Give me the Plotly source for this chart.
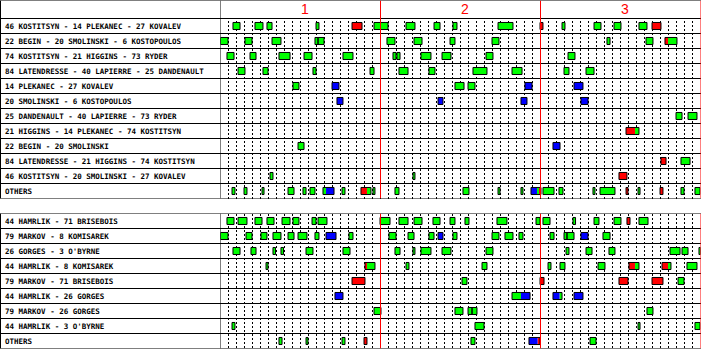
import plotly.graph_objects as go

# ---------------- data (minutes of game time) ----------------
PERIODS = ["1", "2", "3"]

FWD_LABELS = [
    "46 KOSTITSYN - 14 PLEKANEC - 27 KOVALEV",
    "22 BEGIN - 20 SMOLINSKI - 6 KOSTOPOULOS",
    "74 KOSTITSYN - 21 HIGGINS - 73 RYDER",
    "84 LATENDRESSE - 40 LAPIERRE - 25 DANDENAULT",
    "14 PLEKANEC - 27 KOVALEV",
    "20 SMOLINSKI - 6 KOSTOPOULOS",
    "25 DANDENAULT - 40 LAPIERRE - 73 RYDER",
    "21 HIGGINS - 14 PLEKANEC - 74 KOSTITSYN",
    "22 BEGIN - 20 SMOLINSKI",
    "84 LATENDRESSE - 21 HIGGINS - 74 KOSTITSYN",
    "46 KOSTITSYN - 20 SMOLINSKI - 27 KOVALEV",
    "OTHERS",
]

DEF_LABELS = [
    "44 HAMRLIK - 71 BRISEBOIS",
    "79 MARKOV - 8 KOMISAREK",
    "26 GORGES - 3 O'BYRNE",
    "44 HAMRLIK - 8 KOMISAREK",
    "79 MARKOV - 71 BRISEBOIS",
    "44 HAMRLIK - 26 GORGES",
    "79 MARKOV - 26 GORGES",
    "44 HAMRLIK - 3 O'BYRNE",
    "OTHERS",
]

# each shift: (start, end, situation)  EV = even, PK = short-handed, PP = power play
F1 = [(1.56, 2.44, "EV"), (4.31, 5.31, "EV"), (5.81, 6.44, "EV"), (11.94, 12.31, "EV"),
      (16.44, 17.69, "PK"), (19.19, 20.94, "EV"), (23.19, 24.31, "EV"), (26.69, 27.44, "EV"),
      (29.06, 29.56, "EV"), (34.69, 36.56, "EV"), (39.94, 40.31, "PK"), (42.69, 43.06, "EV"),
      (46.69, 47.56, "EV"), (49.19, 50.06, "EV"), (52.31, 53.31, "EV"), (53.94, 55.06, "PK")]
F2 = [(0.0, 0.94, "EV"), (3.06, 3.94, "EV"), (6.44, 7.56, "EV"), (11.81, 12.19, "EV"),
      (12.19, 12.94, "EV"), (20.81, 21.81, "EV"), (24.19, 25.19, "EV"), (28.69, 29.31, "EV"),
      (33.94, 34.81, "EV"), (48.31, 48.69, "EV"), (53.19, 54.06, "EV"),
      (55.56, 55.94, "PK"), (55.94, 57.06, "EV")]
F3 = [(0.81, 1.69, "EV"), (3.69, 4.44, "EV"), (7.31, 8.69, "EV"), (10.44, 11.44, "EV"),
      (15.31, 16.56, "EV"), (21.56, 21.94, "EV"), (22.06, 22.44, "EV"), (25.06, 26.31, "EV"),
      (27.69, 28.81, "EV"), (33.19, 34.06, "EV"), (43.44, 44.31, "EV")]
F4 = [(2.19, 3.06, "EV"), (5.31, 5.94, "EV"), (11.56, 11.94, "EV"), (18.69, 19.19, "EV"),
      (22.31, 23.44, "EV"), (26.06, 26.81, "EV"), (31.56, 33.31, "EV"), (36.44, 37.69, "EV"),
      (42.94, 43.56, "EV"), (45.69, 46.69, "EV")]
F5 = [(9.06, 9.81, "EV"), (13.94, 14.81, "PP"), (29.31, 30.44, "EV"), (30.94, 31.81, "EV"),
      (38.06, 38.94, "PP"), (44.19, 45.31, "PP")]
F6 = [(14.56, 15.31, "PP"), (27.19, 27.81, "PP"), (37.56, 38.31, "PP"), (45.06, 45.94, "PP")]
F7 = [(56.94, 57.69, "EV"), (58.44, 59.56, "EV")]
F8 = [(50.69, 51.81, "PK"), (51.81, 52.31, "EV")]
F9 = [(9.69, 10.44, "EV"), (41.56, 42.44, "PP")]
F10 = [(55.06, 55.69, "PK"), (57.56, 58.69, "EV")]
F11 = [(6.19, 6.56, "EV"), (24.06, 24.31, "EV"), (49.81, 50.81, "PK")]
F12 = [(1.44, 1.81, "EV"), (2.94, 3.31, "EV"), (5.19, 5.44, "EV"), (8.44, 9.19, "EV"),
       (10.31, 10.69, "EV"), (11.19, 11.81, "EV"), (12.81, 13.19, "EV"), (13.19, 14.19, "PP"),
       (15.19, 15.56, "EV"), (17.56, 18.31, "PK"), (18.31, 18.81, "EV"), (19.06, 19.31, "EV"),
       (21.81, 22.31, "EV"), (30.31, 31.06, "EV"), (34.69, 34.94, "EV"), (37.56, 37.81, "EV"),
       (38.81, 39.56, "PP"), (39.56, 39.81, "EV"), (39.81, 40.06, "PK"), (40.31, 41.69, "EV"),
       (42.31, 42.81, "EV"), (46.56, 46.81, "EV"), (47.44, 49.31, "EV"), (50.69, 50.94, "PK"),
       (52.19, 52.44, "EV"), (54.94, 55.31, "PK"), (57.56, 57.94, "EV"), (59.31, 59.94, "EV")]

D1 = [(0.81, 1.69, "EV"), (2.19, 3.31, "EV"), (4.31, 5.19, "EV"), (5.81, 6.69, "EV"),
      (7.69, 8.69, "EV"), (9.06, 9.81, "EV"), (11.44, 11.94, "EV"), (12.19, 13.31, "EV"),
      (19.94, 21.19, "EV"), (22.31, 23.44, "EV"), (24.19, 25.19, "EV"), (26.56, 27.44, "EV"),
      (28.69, 29.31, "EV"), (30.56, 31.06, "EV"), (34.56, 35.81, "EV"), (39.44, 39.94, "EV"),
      (40.31, 41.19, "EV"), (44.06, 44.38, "EV"), (46.69, 47.31, "EV"), (49.19, 50.06, "EV"),
      (50.81, 51.19, "PK"), (52.31, 53.44, "EV")]
D2 = [(0.0, 0.94, "EV"), (3.19, 3.94, "EV"), (5.06, 5.81, "EV"), (6.56, 7.56, "EV"),
      (8.44, 9.19, "EV"), (9.69, 10.81, "EV"), (11.81, 12.31, "EV"), (13.19, 14.44, "PP"),
      (16.06, 16.56, "EV"), (21.06, 21.94, "EV"), (23.44, 24.19, "EV"), (26.06, 26.69, "EV"),
      (27.19, 27.81, "PP"), (29.06, 29.56, "EV"), (33.94, 34.81, "EV"), (35.56, 36.56, "EV"),
      (37.31, 37.81, "EV"), (41.19, 41.69, "EV"), (42.94, 43.31, "EV"), (43.31, 44.19, "EV"),
      (45.06, 45.94, "PP"), (47.81, 48.69, "EV")]
D3 = [(1.56, 2.44, "EV"), (3.81, 4.44, "EV"), (6.56, 6.88, "EV"), (7.56, 7.88, "EV"),
      (10.69, 11.56, "EV"), (15.31, 16.19, "EV"), (21.81, 22.44, "EV"), (24.06, 24.31, "EV"),
      (25.06, 26.31, "EV"), (27.69, 28.81, "EV"), (33.19, 34.06, "EV"), (43.19, 43.56, "EV"),
      (45.69, 46.44, "EV"), (48.56, 49.31, "EV"), (56.19, 57.44, "EV"), (57.69, 58.44, "EV"),
      (59.81, 60.0, "EV")]
D4 = [(5.69, 5.94, "EV"), (18.06, 18.31, "PK"), (18.31, 19.31, "EV"), (23.19, 23.56, "EV"),
      (32.69, 33.31, "EV"), (40.94, 41.31, "EV"), (42.44, 43.06, "EV"), (47.19, 48.06, "EV"),
      (51.06, 51.81, "PK"), (51.81, 52.31, "EV"), (55.19, 55.94, "PK"), (55.94, 56.31, "EV"),
      (58.31, 59.56, "EV")]
D5 = [(16.44, 18.06, "PK"), (30.19, 30.81, "EV"), (39.94, 40.44, "PK"), (49.81, 50.94, "PK"),
      (53.94, 55.31, "PK"), (57.19, 57.94, "EV")]
D6 = [(14.31, 15.31, "PP"), (36.44, 37.56, "EV"), (37.56, 38.69, "PP"), (41.56, 42.38, "PP"),
      (42.38, 42.69, "EV"), (44.19, 45.31, "PP")]
D7 = [(19.19, 20.06, "EV"), (29.31, 30.31, "EV"), (30.94, 31.44, "EV"), (31.44, 32.06, "EV"),
      (53.31, 54.06, "EV")]
D8 = [(1.44, 1.81, "EV"), (31.81, 32.94, "EV"), (52.19, 52.44, "EV"), (59.31, 59.94, "EV")]
D9 = [(7.31, 7.69, "EV"), (10.69, 10.94, "EV"), (15.19, 15.56, "EV"), (17.94, 18.31, "PK"),
      (31.31, 31.81, "EV"), (38.56, 39.63, "PP"), (39.63, 39.94, "PK"), (46.19, 46.94, "EV")]

FWD_SHIFTS = [F1, F2, F3, F4, F5, F6, F7, F8, F9, F10, F11, F12]
DEF_SHIFTS = [D1, D2, D3, D4, D5, D6, D7, D8, D9]

# ---------------- styling ----------------
W, H = 702, 349
COLORS = {"EV": "#00ff00", "PK": "#ff0000", "PP": "#0000ff"}
FONT = "DejaVu Sans Mono, monospace"
LABEL_SIZE = 7.5
PERIOD_FONT = "Liberation Sans, Arial, sans-serif"
BOX_H = 0.47
X0_PX, X1_PX = 220.5, 700.5          # chart area (t=0 .. t=60)
TOP_PX = (0.5, 198.5)                 # header + forward rows
BOT_PX = (213.5, 348.5)               # defence rows
HEADER_ROWS = 1.2


def ydom(px):
    return [1 - px[1] / H, 1 - px[0] / H]


fig = go.Figure()


def add_panel(shifts, xa, ya):
    # colored fills
    for kind, col in COLORS.items():
        ys, base, dur = [], [], []
        for r, row in enumerate(shifts):
            for s, e, k in row:
                if k == kind:
                    ys.append(r); base.append(s); dur.append(e - s)
        fig.add_trace(go.Bar(orientation="h", y=ys, base=base, x=dur, width=BOX_H,
                             marker=dict(color=col, line=dict(width=0)),
                             xaxis=xa, yaxis=ya, hoverinfo="skip", showlegend=False))
    # outlines (adjacent segments of differing situation share one outline)
    ys, base, dur = [], [], []
    for r, row in enumerate(shifts):
        groups = []
        for s, e, k in sorted(row):
            if groups and abs(groups[-1][1] - s) < 1e-6 and groups[-1][2] != k:
                groups[-1] = (groups[-1][0], e, k)
            else:
                groups.append((s, e, k))
        for s, e, _ in groups:
            ys.append(r); base.append(s); dur.append(e - s)
    fig.add_trace(go.Bar(orientation="h", y=ys, base=base, x=dur, width=BOX_H,
                         marker=dict(color="rgba(0,0,0,0)", line=dict(color="black", width=1)),
                         xaxis=xa, yaxis=ya, hoverinfo="skip", showlegend=False))


add_panel(FWD_SHIFTS, "x", "y")
add_panel(DEF_SHIFTS, "x2", "y2")

xdom = [X0_PX / W, X1_PX / W]
axis_x = dict(range=[0, 60], domain=xdom, showticklabels=False, ticks="",
              showgrid=True, gridcolor="black", gridwidth=1, griddash="2px,2px",
              tick0=0, dtick=1, zeroline=False, showline=False, fixedrange=True)
nf, nd = len(FWD_LABELS), len(DEF_LABELS)
fig.update_layout(
    width=W, height=H, autosize=False,
    margin=dict(l=0, r=0, t=0, b=0, pad=0),
    paper_bgcolor="white", plot_bgcolor="white",
    barmode="overlay",
    xaxis=dict(axis_x, anchor="y"),
    xaxis2=dict(axis_x, anchor="y2", matches="x"),
    yaxis=dict(range=[nf - 0.5, -0.5 - HEADER_ROWS], domain=ydom(TOP_PX), showgrid=False,
               showticklabels=False, zeroline=False, ticks="", anchor="x", fixedrange=True),
    yaxis2=dict(range=[nd - 0.5, -0.5], domain=ydom(BOT_PX), showgrid=False,
                showticklabels=False, zeroline=False, ticks="", anchor="x2", fixedrange=True),
)

shapes = []
# white header band hides the minute grid
shapes.append(dict(type="rect", xref="x", yref="y", x0=0, x1=60, y0=-0.5 - HEADER_ROWS, y1=-0.5,
                   fillcolor="white", line=dict(width=0), layer="between"))
line_right = (X1_PX + 0.5) / W

# horizontal row separators (full width incl. label column)
for k in range(nf + 1):
    shapes.append(dict(type="line", xref="paper", yref="y", x0=0, x1=line_right,
                       y0=k - 0.5, y1=k - 0.5, line=dict(color="black", width=1)))
shapes.append(dict(type="line", xref="paper", yref="y", x0=0, x1=line_right,
                   y0=-0.5 - HEADER_ROWS, y1=-0.5 - HEADER_ROWS, line=dict(color="black", width=1)))
for k in range(nd + 1):
    shapes.append(dict(type="line", xref="paper", yref="y2", x0=0, x1=line_right,
                       y0=k - 0.5, y1=k - 0.5, line=dict(color="black", width=1)))

# vertical borders
for yr, y0, y1 in (("y", -0.5 - HEADER_ROWS, nf - 0.5), ("y2", -0.5, nd - 0.5)):
    shapes.append(dict(type="line", xref="paper", yref=yr, x0=0.5 / W, x1=0.5 / W, y0=y0, y1=y1,
                       line=dict(color="black", width=1)))
    xr = "x" if yr == "y" else "x2"
    shapes.append(dict(type="line", xref=xr, yref=yr, x0=0, x1=0, y0=y0, y1=y1,
                       line=dict(color="black", width=1)))
    for t in (20, 40, 60):
        shapes.append(dict(type="line", xref=xr, yref=yr, x0=t, x1=t, y0=y0, y1=y1,
                           line=dict(color="red", width=1), layer="above"))
fig.update_layout(shapes=shapes)

ann = []
for i, lab in enumerate(FWD_LABELS):
    ann.append(dict(text=lab, xref="paper", yref="y", x=3 / W, y=i, xanchor="left",
                    yanchor="middle", showarrow=False,
                    font=dict(family=FONT, size=LABEL_SIZE, color="black", weight="bold")))
for i, lab in enumerate(DEF_LABELS):
    ann.append(dict(text=lab, xref="paper", yref="y2", x=3 / W, y=i, xanchor="left",
                    yanchor="middle", showarrow=False,
                    font=dict(family=FONT, size=LABEL_SIZE, color="black", weight="bold")))
for p, lab in enumerate(PERIODS):
    ann.append(dict(text=lab, xref="x", yref="y", x=20 * p + 9.8, y=-0.5 - HEADER_ROWS / 2,
                    xanchor="left", yanchor="middle", showarrow=False,
                    font=dict(family=PERIOD_FONT, size=14, color="red")))
fig.update_layout(annotations=ann)

fig.write_html("out.html", config={"displayModeBar": False, "staticPlot": True})
